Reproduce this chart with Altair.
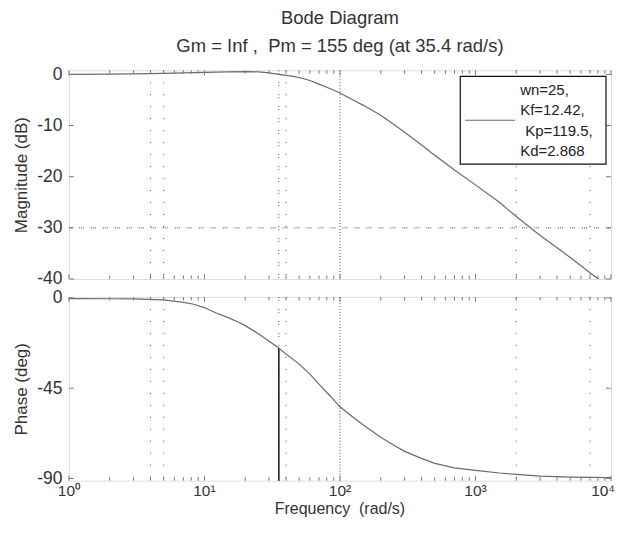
import altair as alt
import pandas as pd

# ---------------- data ----------------
freq_mag = [1, 2, 3, 5, 7, 10, 15, 20, 25, 30, 35.4, 40, 45, 50, 60, 70, 85, 100,
            125, 150, 200, 250, 300, 400, 500, 700, 1000, 1500, 2000, 3000, 4000,
            5000, 7000, 10000]
mag_db = [0.0, 0.05, 0.1, 0.2, 0.3, 0.4, 0.5, 0.55, 0.5, 0.3, 0.0, -0.2, -0.4, -0.6,
          -1.2, -1.9, -2.8, -3.65, -5.0, -6.1, -8.0, -9.8, -11.3, -13.8, -15.8, -18.7,
          -21.6, -25.0, -27.8, -31.5, -33.9, -35.8, -38.8, -41.8]

freq_phase = [1, 2, 3, 5, 7, 8.2, 10, 12.2, 15, 18.2, 20, 25.5, 30, 35.4, 40, 50, 60,
              70, 85, 100, 125, 150, 200, 250, 300, 400, 500, 700, 1000, 1500, 2000,
              3000, 5000, 7000, 10000]
phase_deg = [-0.3, -0.4, -0.5, -1.0, -2.2, -3.0, -4.8, -7.5, -9.8, -12.4, -13.8, -18.2,
             -21.6, -25.0, -28.0, -33.0, -38.0, -43.0, -49.0, -54.3, -59.5, -63.5,
             -69.5, -73.5, -76.5, -80.0, -82.5, -84.7, -86.0, -87.3, -88.0, -88.8,
             -89.3, -89.5, -89.6]

sparse_marker_freqs = [4, 5, 40, 2000, 7000]
pm_marker_freqs = [35.4]
dense_marker_freqs = [100]
mag_hline = [-30]

pm_freq = [35.4]
pm_phase = [-25.0]

x_major_ticks = [1, 10, 100, 1000, 10000]
x_tick_labels = ["10\u2070", "10\u00b9", "10\u00b2", "10\u00b3", "10\u2074"]
x_minor_ticks = [2, 3, 4, 5, 6, 7, 8, 9,
                 20, 30, 40, 50, 60, 70, 80, 90,
                 200, 300, 400, 500, 600, 700, 800, 900,
                 2000, 3000, 4000, 5000, 6000, 7000, 8000, 9000]
mag_ticks = [-40, -30, -20, -10, 0]
phase_ticks = [-90, -45, 0]

legend_lines = ["wn=25,", "Kf=12.42,", "Kp=119.5,", "Kd=2.868"]
legend_indent = [0, 0, 5, 0]

title_text = "Bode Diagram"
subtitle_text = "Gm = Inf ,\u00a0 Pm = 155 deg (at 35.4 rad/s)"
mag_title = "Magnitude (dB)"
phase_title = "Phase (deg)"
x_title = "Frequency\u00a0 (rad/s)"

# ---------------- layout / style ----------------
W = 543
H_MAG = 209
H_PH = 184
FONT = "Liberation Sans"
TXT = "#333333"
CURVE = "#6a6a6a"
DOT = "#4a4a4a"
TICK = "#7a7a7a"

xscale = alt.Scale(type="log", domain=[1, 10000], nice=False)
mag_scale = alt.Scale(domain=[-40, 0.8], nice=False, zero=False)
ph_scale = alt.Scale(domain=[-91.1, 0.5], nice=False, zero=False)

mag_df = pd.DataFrame({"f": freq_mag, "m": mag_db})
ph_df = pd.DataFrame({"f": freq_phase, "p": phase_deg})
one = pd.DataFrame({"a": [0]})


def X():
    return alt.X("f:Q", scale=xscale, axis=None)


def y_axis(vals, title):
    return alt.Axis(values=vals, title=title, ticks=False, tickSize=0,
                    labelExpr="'' + datum.value",
                    domain=False, grid=False, labelPadding=7, titlePadding=6,
                    labelFont=FONT, labelFontSize=17.5, labelColor=TXT,
                    titleFont=FONT, titleFontSize=17, titleFontWeight="normal",
                    titleColor=TXT)


def vlines(freqs, dash):
    return alt.Chart(pd.DataFrame({"f": freqs})).mark_rule(
        color=DOT, strokeWidth=1, strokeDash=dash
    ).encode(x=X())


def x_ticks(vals, length, h):
    d = pd.DataFrame({"f": vals})
    top = alt.Chart(d).mark_rule(color=TICK, strokeWidth=1).encode(
        x=X(), y=alt.value(0), y2=alt.value(length))
    bot = alt.Chart(d).mark_rule(color=TICK, strokeWidth=1).encode(
        x=X(), y=alt.value(h), y2=alt.value(h - length))
    return top + bot


def y_ticks(vals, scale, field):
    d = pd.DataFrame({field: vals})
    left = alt.Chart(d).mark_rule(color=TICK, strokeWidth=1).encode(
        y=alt.Y(f"{field}:Q", scale=scale), x=alt.value(0), x2=alt.value(5))
    right = alt.Chart(d).mark_rule(color=TICK, strokeWidth=1).encode(
        y=alt.Y(f"{field}:Q", scale=scale), x=alt.value(W - 5), x2=alt.value(W))
    return left + right


sparse_dash = [1, 11]
pm_dash = [1, 2, 1, 8]
dense_dash = [1, 2]

# ---------------- magnitude panel ----------------
mag_axis_layer = alt.Chart(pd.DataFrame({"m": mag_ticks})).mark_point(opacity=0).encode(
    x=alt.value(0), y=alt.Y("m:Q", scale=mag_scale, axis=y_axis(mag_ticks, mag_title)))

mag_line = alt.Chart(mag_df).mark_line(color=CURVE, strokeWidth=1.2, clip=True).encode(
    x=X(), y=alt.Y("m:Q", scale=mag_scale))

hline = alt.Chart(pd.DataFrame({"m": mag_hline})).mark_rule(
    color=DOT, strokeWidth=1, strokeDash=[1, 1, 1, 1, 1, 7]
).encode(y=alt.Y("m:Q", scale=mag_scale))

legend_box = alt.Chart(one).mark_rect(fill="white", stroke="#111111", strokeWidth=1.2).encode(
    x=alt.value(392), x2=alt.value(538), y=alt.value(6), y2=alt.value(94))
legend_sym = alt.Chart(one).mark_rule(color=CURVE, strokeWidth=1.2).encode(
    x=alt.value(397), x2=alt.value(447), y=alt.value(50))
legend_texts = [
    alt.Chart(one).mark_text(
        align="left", baseline="middle", font=FONT, fontSize=15, color="#222222"
    ).encode(x=alt.value(452 + legend_indent[i]), y=alt.value(19.7 + 20.3 * i),
             text=alt.value(line))
    for i, line in enumerate(legend_lines)
]

mag_chart = alt.layer(
    mag_axis_layer,
    vlines(sparse_marker_freqs, sparse_dash),
    vlines(pm_marker_freqs, pm_dash),
    vlines(dense_marker_freqs, dense_dash),
    hline,
    mag_line,
    x_ticks(x_major_ticks, 5, H_MAG),
    x_ticks(x_minor_ticks, 3.5, H_MAG),
    y_ticks(mag_ticks, mag_scale, "m"),
    legend_box, legend_sym, *legend_texts,
).properties(
    width=W, height=H_MAG,
    title=alt.TitleParams(
        text=title_text, subtitle=subtitle_text, anchor="middle", frame="group",
        font=FONT, fontSize=18.5, fontWeight="normal", color=TXT,
        subtitleFont=FONT, subtitleFontSize=18.5, subtitleColor=TXT,
        subtitlePadding=10, offset=9.5),
)

# ---------------- phase panel ----------------
ph_axis_layer = alt.Chart(pd.DataFrame({"p": phase_ticks})).mark_point(opacity=0).encode(
    x=alt.value(0), y=alt.Y("p:Q", scale=ph_scale, axis=y_axis(phase_ticks, phase_title)))

ph_line = alt.Chart(ph_df).mark_line(color=CURVE, strokeWidth=1.2, clip=True).encode(
    x=X(), y=alt.Y("p:Q", scale=ph_scale))

pm_rule = alt.Chart(pd.DataFrame({"f": pm_freq, "p": pm_phase})).mark_rule(
    color="#222222", strokeWidth=1.6
).encode(x=X(), y=alt.Y("p:Q", scale=ph_scale), y2=alt.value(H_PH))

lab_df = pd.DataFrame({"f": x_major_ticks, "lbl": x_tick_labels})
x_labels_inner = alt.Chart(lab_df.iloc[:-1]).mark_text(
    align="center", baseline="middle", font=FONT, fontSize=15.5, color=TXT
).encode(x=X(), y=alt.value(H_PH + 10), text="lbl:N")
x_label_last = alt.Chart(lab_df.iloc[-1:]).mark_text(
    align="right", baseline="middle", font=FONT, fontSize=15.5, color=TXT, dx=4
).encode(x=X(), y=alt.value(H_PH + 10), text="lbl:N")

x_title_mark = alt.Chart(one).mark_text(
    align="center", baseline="alphabetic", font=FONT, fontSize=16, color=TXT
).encode(x=alt.value(W / 2), y=alt.value(H_PH + 33), text=alt.value(x_title))

ph_chart = alt.layer(
    ph_axis_layer,
    vlines(sparse_marker_freqs, sparse_dash),
    vlines(pm_marker_freqs, pm_dash),
    vlines(dense_marker_freqs, dense_dash),
    pm_rule,
    ph_line,
    x_ticks(x_major_ticks, 5, H_PH),
    x_ticks(x_minor_ticks, 3.5, H_PH),
    y_ticks(phase_ticks, ph_scale, "p"),
    x_labels_inner,
    x_label_last,
    x_title_mark,
).properties(width=W, height=H_PH)

chart = alt.vconcat(mag_chart, ph_chart, spacing=18, bounds="flush").properties(
    padding={"left": 4, "top": 0, "right": 0, "bottom": 0}
).configure_view(stroke="#808080", strokeWidth=1.6).configure(background="white")

chart.save("out.html", embed_options={"renderer": "svg", "actions": False})
